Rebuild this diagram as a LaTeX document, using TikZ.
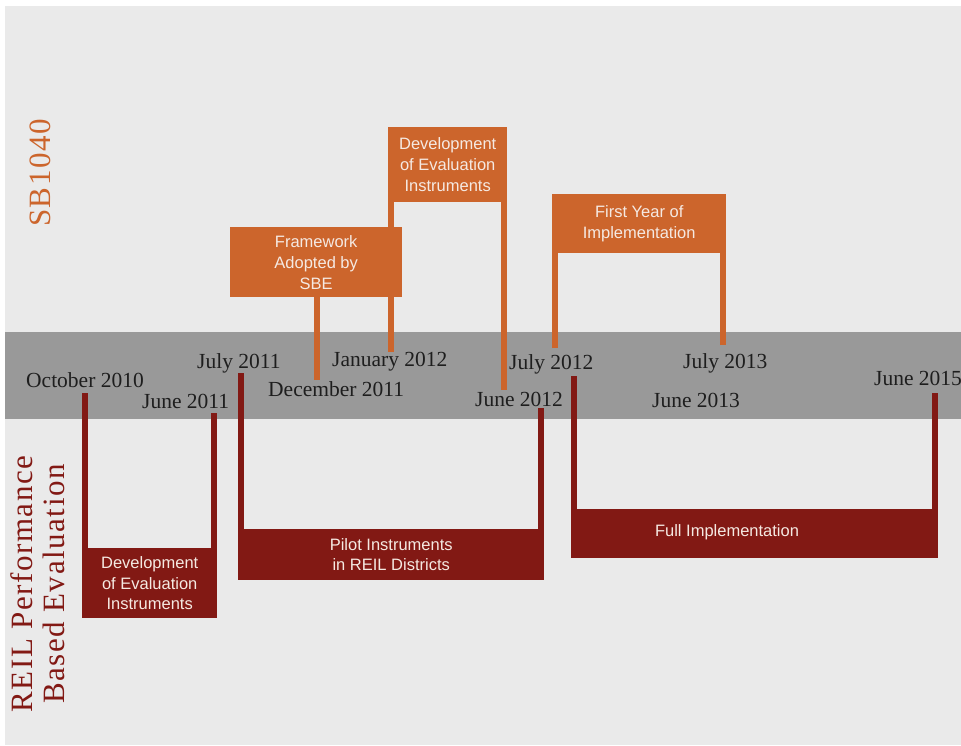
\documentclass[tikz,border=0pt]{standalone}
\usepackage{fontspec}
\setmainfont{Liberation Serif}
\newfontfamily\boxfont{Liberation Sans}
\newfontfamily\sidefont[LetterSpace=5]{Liberation Serif}
\definecolor{bgc}{HTML}{EAEAEA}
\definecolor{bandc}{HTML}{999999}
\definecolor{orangec}{HTML}{CC652C}
\definecolor{redc}{HTML}{821914}
\definecolor{boxtext}{HTML}{F5E9E2}
\definecolor{datec}{HTML}{1E1E1E}
\tikzset{
  obox/.style={fill=orangec, text=boxtext, font=\boxfont\fontsize{16.5}{21}\selectfont, align=center, inner sep=0pt, anchor=north west},
  rbox/.style={fill=redc, text=boxtext, font=\boxfont\fontsize{16.5}{20.5}\selectfont, align=center, inner sep=0pt, anchor=north west},
  oleg/.style={draw=orangec, line width=6pt},
  rleg/.style={draw=redc, line width=6pt},
  datelbl/.style={font=\fontsize{21.5}{24}\selectfont, text=datec, inner sep=0pt, anchor=base west},
  sidelbl/.style={rotate=90, anchor=base, inner sep=0pt, font=\sidefont\fontsize{31}{34}\selectfont}
}
\begin{document}
\begin{tikzpicture}[x=1pt,y=-1pt]
\useasboundingbox (0,0) rectangle (961,745);
\fill[white] (0,0) rectangle (961,745);
\fill[bgc] (5,6) rectangle (961,745);
\fill[bandc] (5,332) rectangle (961,419);

% tick end points
\coordinate (toct) at (85,393);
\coordinate (tjun11) at (214,413);
\coordinate (tjul11) at (241,373);
\coordinate (tjun12r) at (541,408);
\coordinate (tjul12r) at (574,376);
\coordinate (tjun15) at (935,393);
\coordinate (tdec11) at (317,380);
\coordinate (tjan12) at (391,352);
\coordinate (tjun12o) at (504,390);
\coordinate (tjul12o) at (555,348);
\coordinate (tjul13) at (723,345);

% boxes (positions)
\node[obox, minimum width=119pt, minimum height=75pt] (devtop) at (388,127) {Development\\of Evaluation\\Instruments};
\node[obox, minimum width=174pt, minimum height=59pt] (first) at (552,194) {First Year of\\Implementation};
\node[rbox, minimum width=135pt, minimum height=70pt] (devbot) at (82,548) {Development\\of Evaluation\\Instruments};
\node[rbox, minimum width=306pt, minimum height=51pt] (pilot) at (238,529) {Pilot Instruments\\in REIL Districts};
\node[rbox, minimum width=367pt, minimum height=49pt] (full) at (571,509) {};
\node[font=\boxfont\fontsize{16.5}{20.5}\selectfont, text=boxtext, inner sep=0pt] (fulltxt) at (727,532) {Full Implementation};

% legs
\draw[oleg] (tjan12) -- (tjan12 |- devtop.south);
\draw[oleg] (tjun12o) -- (tjun12o |- devtop.south);
\draw[oleg] (tjul12o) -- (tjul12o |- first.south);
\draw[oleg] (tjul13) -- (tjul13 |- first.south);
\draw[rleg] (toct) -- (toct |- devbot.north);
\draw[rleg] (tjun11) -- (tjun11 |- devbot.north);
\draw[rleg] (tjul11) -- (tjul11 |- pilot.north);
\draw[rleg] (tjun12r) -- (tjun12r |- pilot.north);
\draw[rleg] (tjul12r) -- (tjul12r |- full.north);
\draw[rleg] (tjun15) -- (tjun15 |- full.north);

\node[obox, minimum width=172pt, minimum height=70pt] (frame) at (230,227) {Framework\\Adopted by\\SBE};
\draw[oleg] (tdec11) -- (tdec11 |- frame.south);

% date labels
\node[datelbl] (doct) at (26,387) {October 2010};
\node[datelbl] (djun11) at (142,408) {June 2011};
\node[datelbl] (djul11) at (197,368) {July 2011};
\node[datelbl] (ddec11) at (268,396) {December 2011};
\node[datelbl] (djan12) at (332,366) {January 2012};
\node[datelbl] (djun12) at (475,406) {June 2012};
\node[datelbl] (djul12) at (509,369) {July 2012};
\node[datelbl] (djul13) at (683,368) {July 2013};
\node[datelbl] (djun13) at (652,407) {June 2013};
\node[datelbl] (djun15) at (874,385) {June 2015};

% side labels
\node[sidelbl, text=orangec] (sb) at (50,173) {SB1040};
\node[sidelbl, text=redc] (reil) at (32,584) {REIL Performance};
\node[sidelbl, text=redc] (based) at (64,584) {Based Evaluation};
\end{tikzpicture}
\end{document}
